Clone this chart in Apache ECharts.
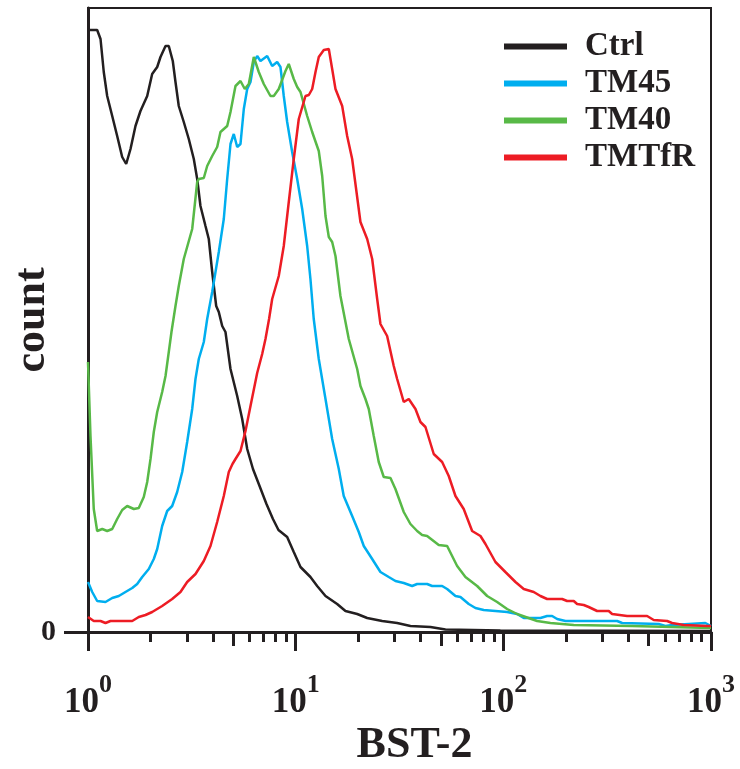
<!DOCTYPE html>
<html>
<head>
<meta charset="utf-8">
<script src="https://cdn.jsdelivr.net/npm/echarts@6/dist/echarts.min.js"></script>
<style>
  html, body { margin: 0; padding: 0; background: #ffffff; }
  #chart { width: 740px; height: 769px; }
</style>
</head>
<body>
<div id="chart"></div>
<script>
// ---- data (BST-2 intensity vs. count) ----
var seriesNames = ['Ctrl', 'TM45', 'TM40', 'TMTfR'];
var seriesColors = ['#231f20', '#00aeef', '#58b947', '#ed1c24'];

var ctrlBST = [1.0,1.107,1.149,1.191,1.237,1.308,1.382,1.461,1.527,1.602,1.693,1.789,1.928,2.037,2.154,2.234,2.362,2.449,2.560,2.638,2.736,2.892,3.057,3.232,3.356,3.480,3.679,3.816,3.963,4.143,4.264,4.428,4.592,4.855,5.229,5.527,5.843,6.229,6.643,7.235,7.774,8.264,9.101,9.792,10.55,11.78,12.69,13.92,15.84,17.37,19.78,22.10,26.10,30.81,35.70,44.57,52.63,96.8,1000];
var ctrlCount = [602,602,593,560,536,516,496,475,468,483,506,521,536,558,565,575,586,586,571,550,526,510,493,473,453,426,406,393,360,326,320,306,300,263,236,213,183,163,148,128,113,102,95,80,65,55,46,36,28,21,18,14,11,9,6,5,2.5,1.5,1];

var tm45BST = [1.0,1.048,1.107,1.214,1.308,1.407,1.515,1.633,1.725,1.824,1.962,2.074,2.154,2.276,2.406,2.543,2.688,2.842,3.003,3.175,3.293,3.416,3.611,3.749,3.963,4.264,4.507,4.680,4.855,5.035,5.229,5.424,5.627,5.843,6.060,6.286,6.526,6.769,7.293,7.707,8.145,8.449,8.764,9.101,9.619,10.17,10.75,11.36,11.78,12.22,12.92,13.92,14.99,16.13,17.04,18.71,20.13,21.28,23.36,25.60,28.07,30.23,33.15,36.38,38.46,42.96,45.42,50.74,53.63,58.81,62.15,68.14,73.38,80.45,91.62,104.3,116.5,125.4,150.9,162.5,171.8,181.6,199.1,353.1,373.3,559.9,603.2,649.6,661.3,939.7,1000];
var tm45Count = [50,40,31,30,34,36,40,44,48,55,63,73,83,106,121,126,140,160,190,223,253,273,290,313,340,380,413,453,488,498,485,488,523,543,550,570,576,571,576,566,570,565,536,510,480,453,423,386,353,313,273,233,193,163,136,116,100,86,73,60,55,51,49,46,48,48,46,46,43,36,35,28,24,22,21,20,18,14,14,16,16,13,11,11,9,8,6,7,9,9,6];

var tm40BST = [1.0,1.028,1.066,1.107,1.171,1.191,1.237,1.308,1.382,1.461,1.544,1.662,1.756,1.856,1.928,2.000,2.074,2.154,2.276,2.362,2.449,2.523,2.638,2.736,2.892,3.175,3.356,3.416,3.611,3.749,3.963,4.188,4.344,4.680,4.855,5.131,5.424,5.689,5.947,6.286,6.643,7.022,7.561,7.844,8.291,8.930,9.264,9.792,10.17,10.55,11.36,12.01,12.92,13.42,13.92,14.44,14.99,15.55,16.43,18.02,19.78,20.51,21.68,22.49,23.77,25.12,26.56,28.61,30.23,33.15,35.70,38.46,40.64,42.96,48.86,53.63,56.68,59.92,65.69,74.78,83.56,93.35,104.3,116.5,145.4,168.6,218.3,417.0,424.5,1000];
var tm40Count = [270,196,123,101,103,105,101,103,113,122,126,123,124,135,150,173,200,220,240,256,280,300,326,346,373,403,450,453,454,466,476,485,500,506,520,546,551,543,548,575,560,548,536,536,543,561,568,553,545,540,516,500,481,456,416,395,390,376,336,293,263,246,233,223,196,170,155,154,143,120,108,101,97,96,87,86,76,66,55,46,36,30,23,18,11,9,7,6,4,4];

var tmtfrBST = [1.0,1.066,1.149,1.214,1.283,1.633,1.756,1.892,2.037,2.276,2.543,2.788,3.003,3.293,3.611,3.889,4.188,4.507,4.764,4.963,5.131,5.424,5.733,6.060,6.526,6.899,7.155,7.446,7.707,8.291,8.764,9.264,9.792,10.35,11.15,11.57,12.01,12.46,12.92,13.66,14.44,14.99,15.55,16.75,17.70,18.71,20.51,22.10,23.36,24.69,25.60,27.57,29.67,30.81,33.15,35.04,37.75,39.89,42.17,46.23,50.74,54.59,58.81,64.45,70.76,77.59,82.02,91.62,102.3,114.4,125.4,140.1,150.9,162.5,191.9,202.8,218.3,226.6,243.9,257.7,282.9,321.8,334.1,394.5,492.4,529.9,614.8,649.6,739.0,957.7,1000];
var tmtfrCount = [15,11,11,9,11,11,15,17,20,26,33,40,50,58,71,86,110,136,160,168,173,181,201,226,259,278,293,313,333,356,386,430,473,513,536,537,543,560,575,582,583,563,543,526,496,473,410,393,373,333,308,296,266,253,230,233,223,210,205,178,170,156,136,123,101,96,88,70,60,50,43,40,36,33,33,31,31,28,27,25,21,21,18,16,16,12,11,9,7,6,6];

// ---- axis ticks / labels ----
var majorTicks = [1, 10, 100, 1000];
var midTicks = [5, 50, 500];
var minorTicks = [2,3,4,6,7,8,9,20,30,40,60,70,80,90,200,300,400,600,700,800,900];
var tickExponents = ['0', '1', '2', '3'];
var yTickValues = [0];
var yTickLabels = ['0'];
var xTitle = 'BST-2';
var yTitle = 'count';
var countMax = 624;

var FONT = "'Liberation Serif', 'Times New Roman', serif";
var INK = '#231f20';

function pairs(xs, ys) { return xs.map(function (x, i) { return [x, ys[i]]; }); }
function lg(v) { return Math.log10(v); }

var seriesX = [ctrlBST, tm45BST, tm40BST, tmtfrBST];
var seriesY = [ctrlCount, tm45Count, tm40Count, tmtfrCount];

function tickAxis(values, len, extra) {
  var ax = {
    type: 'value', gridIndex: 0, position: 'bottom', min: 0, max: 3,
    axisLine: { show: false },
    splitLine: { show: false },
    axisLabel: { show: false },
    axisTick: { show: true, inside: false, length: len, customValues: values.map(lg),
      lineStyle: { color: INK, width: 3 } }
  };
  if (extra) { for (var k in extra) ax[k] = extra[k]; }
  return ax;
}

var chart = echarts.init(document.getElementById('chart'), null, { renderer: 'canvas' });
chart.setOption({
  animation: false,
  backgroundColor: '#ffffff',
  grid: { left: 88, right: 29, top: 8, bottom: 137, show: true, borderColor: INK, borderWidth: 2,
    containLabel: false, outerBoundsMode: 'none' },
  legend: {
    orient: 'vertical', left: 504, top: 30, padding: 0, itemWidth: 63, itemHeight: 6, itemGap: 4,
    icon: 'rect', itemStyle: { borderWidth: 0 },
    textStyle: { fontFamily: FONT, fontWeight: 'bold', fontSize: 33, lineHeight: 33, color: INK, padding: [0, 0, 0, 13] },
    data: seriesNames
  },
  xAxis: [
    { type: 'log', logBase: 10, min: 1, max: 1000, gridIndex: 0, position: 'bottom',
      axisLine: { show: true, onZero: false, lineStyle: { color: INK, width: 3 } },
      axisTick: { show: false }, axisLabel: { show: false }, splitLine: { show: false }, minorTick: { show: false } },
    tickAxis(majorTicks, 19, {
      axisLabel: {
        show: true, customValues: majorTicks.map(lg), margin: 53,
        formatter: function (v) { return '{b|10}{s|' + tickExponents[Math.round(v)] + '}'; },
        rich: {
          b: { fontFamily: FONT, fontWeight: 'bold', fontSize: 35, lineHeight: 35, color: INK, verticalAlign: 'bottom' },
          s: { fontFamily: FONT, fontWeight: 'bold', fontSize: 26, lineHeight: 26, color: INK, verticalAlign: 'bottom', padding: [0, 0, 22, 0] }
        }
      },
      name: xTitle, nameLocation: 'middle', nameGap: 92, nameMoveOverlap: false,
      nameTextStyle: { fontFamily: FONT, fontWeight: 'bold', fontSize: 44, color: INK, padding: [0, 0, 0, 30] }
    }),
    tickAxis(midTicks, 14),
    tickAxis(minorTicks, 10)
  ],
  yAxis: {
    type: 'value', min: 0, max: countMax,
    axisLine: { show: true, lineStyle: { color: INK, width: 3 } },
    axisTick: { show: true, length: 24, customValues: yTickValues, lineStyle: { color: INK, width: 3 } },
    axisLabel: { show: true, customValues: yTickValues, margin: 32,
      formatter: function (v) { return yTickLabels[yTickValues.indexOf(v)]; },
      fontFamily: FONT, fontWeight: 'bold', fontSize: 30, color: INK },
    splitLine: { show: false },
    name: yTitle, nameLocation: 'middle', nameRotate: 90, nameGap: 33, nameMoveOverlap: false,
    nameTextStyle: { fontFamily: FONT, fontWeight: 'bold', fontSize: 44, color: INK }
  },
  series: seriesNames.map(function (name, i) {
    return {
      name: name, type: 'line', xAxisIndex: 0, yAxisIndex: 0,
      data: pairs(seriesX[i], seriesY[i]),
      showSymbol: false, symbol: 'none', smooth: false,
      color: seriesColors[i],
      lineStyle: { color: seriesColors[i], width: 2.5 },
      z: 2 + i
    };
  })
});
</script>
</body>
</html>
